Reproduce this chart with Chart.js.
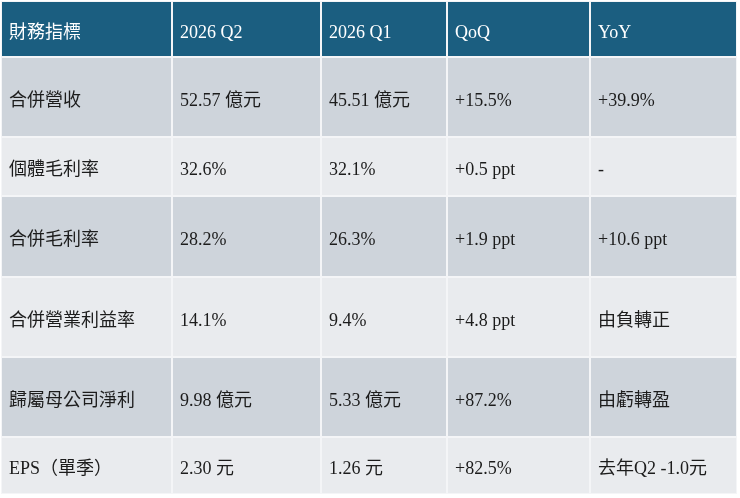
<!DOCTYPE html>
<html lang="zh-Hant">
<head>
<meta charset="utf-8">
<title>財務指標</title>
<script src="https://cdn.jsdelivr.net/npm/chart.js@4.4.1/dist/chart.umd.min.js"></script>
<style>
  html, body { margin: 0; padding: 0; background: #ffffff; }
  #wrap { width: 740px; height: 498px; position: relative; }
</style>
</head>
<body>
<div id="wrap"><canvas id="c" width="740" height="498"></canvas></div>
<script>
// ---- data ----
const headers = ['財務指標', '2026 Q2', '2026 Q1', 'QoQ', 'YoY'];
const rowLabels = ['合併營收', '個體毛利率', '合併毛利率', '合併營業利益率', '歸屬母公司淨利', 'EPS（單季）'];
const q2Values = ['52.57 億元', '32.6%', '28.2%', '14.1%', '9.98 億元', '2.30 元'];
const q1Values = ['45.51 億元', '32.1%', '26.3%', '9.4%', '5.33 億元', '1.26 元'];
const qoqValues = ['+15.5%', '+0.5 ppt', '+1.9 ppt', '+4.8 ppt', '+87.2%', '+82.5%'];
const yoyValues = ['+39.9%', '-', '+10.6 ppt', '由負轉正', '由虧轉盈', '去年Q2 -1.0元'];

// ---- layout (pixel units of the linear scales) ----
const layout = {
  colEdges: [1, 172, 321, 447, 590, 737],
  rowEdges: [1, 57, 137, 196, 277, 357, 437, 494],
  headerColor: '#1b5e80',
  rowColors: ['#ced4db', '#e9ebee'],
  lineColor: '#f4f5f7',
  pad: 8
};

const cellText = [headers].concat(rowLabels.map((r, i) =>
  [r, q2Values[i], q1Values[i], qoqValues[i], yoyValues[i]]));

const datasets = cellText.map((row, r) => {
  const y0 = layout.rowEdges[r], y1 = layout.rowEdges[r + 1];
  return {
    label: r === 0 ? 'header' : row[0],
    data: row.map((_, c) => ({ x: [layout.colEdges[c], layout.colEdges[c + 1]], y: (y0 + y1) / 2 })),
    barThickness: y1 - y0,
    grouped: false,
    backgroundColor: r === 0 ? layout.headerColor : layout.rowColors[(r - 1) % 2],
    borderColor: layout.lineColor,
    borderWidth: 1,
    borderSkipped: false,
    inflateAmount: 0
  };
});

const textPlugin = {
  id: 'cellText',
  afterDatasetsDraw(chart) {
    const ctx = chart.ctx;
    ctx.save();
    ctx.textAlign = 'left';
    ctx.textBaseline = 'middle';
    ctx.font = "18px 'Liberation Serif', 'Noto Sans CJK TC', serif";
    cellText.forEach((row, r) => {
      const meta = chart.getDatasetMeta(r);
      ctx.fillStyle = r === 0 ? '#ffffff' : '#1c1c1c';
      meta.data.forEach((bar, c) => {
        const p = bar.getProps(['x', 'base', 'y'], true);
        const left = Math.min(p.x, p.base);
        ctx.fillText(row[c], left + layout.pad, p.y + 4);
      });
    });
    ctx.restore();
  }
};

new Chart(document.getElementById('c'), {
  type: 'bar',
  data: { datasets },
  options: {
    indexAxis: 'y',
    responsive: false,
    animation: false,
    layout: { padding: 0 },
    plugins: { legend: { display: false }, tooltip: { enabled: false } },
    scales: {
      x: { type: 'linear', min: 0, max: 740, display: false, offset: false },
      y: { type: 'linear', min: 0, max: 498, reverse: true, display: false, offset: false }
    }
  },
  plugins: [textPlugin]
});
</script>
</body>
</html>
